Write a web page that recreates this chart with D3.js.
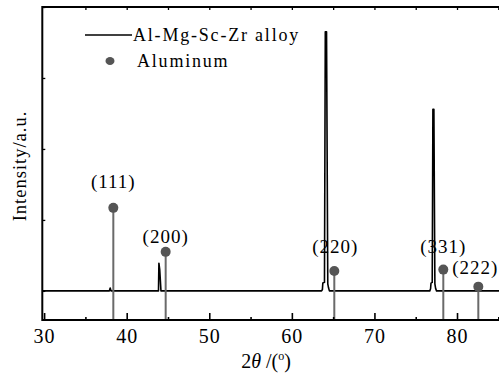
<!DOCTYPE html>
<html>
<head>
<meta charset="utf-8">
<script src="https://cdn.jsdelivr.net/npm/d3@7"></script>
<style>
  html, body { margin: 0; padding: 0; background: #fff; }
  svg { display: block; }
  text { font-family: "Liberation Serif", "DejaVu Serif", serif; fill: #000; }
</style>
</head>
<body>
<svg id="chart" width="499" height="376"></svg>
<script>
// ---- data ----
// Al-Mg-Sc-Zr alloy XRD pattern (2θ, relative intensity)
const alloyTheta = [29.8, 37.9, 38.0, 38.1, 43.85, 43.9, 44.0, 44.15, 63.6, 63.7, 63.75, 63.95, 64.05, 64.2, 64.35, 64.45, 64.55, 76.7, 76.8, 76.85, 77.0, 77.08, 77.2, 77.32, 77.42, 77.52, 85.5];
const alloyIntensity = [0, 0, 0.04, 0, 0, 0.39, 0.3, 0, 0, 0.02, 0.11, 0.12, 3.65, 3.65, 0.1, 0.04, 0, 0, 0.03, 0.11, 0.12, 2.56, 2.56, 0.1, 0.03, 0, 0];
// Aluminum reference peaks
const refLabels = ["(111)", "(200)", "(220)", "(331)", "(222)"];
const refTheta = [38.38, 44.72, 65.14, 78.34, 82.58];
const refIntensity = [1.17, 0.55, 0.28, 0.30, 0.06];
// axis ticks
const xMajorTicks = [30, 40, 50, 60, 70, 80];
const xMinorTicks = [35, 45, 55, 65, 75, 85];
const xTopTicks = [35, 40, 45, 50, 55, 60, 65, 70, 75, 80, 85];
const yTicks = [0, 1, 2, 3, 4];
const legendLabels = ["Al-Mg-Sc-Zr alloy", "Aluminum"];

// ---- layout ----
const mLeft = 42.3, mRight = 498.3, mTop = 7, mBottom = 320;
const labelLift = [20, 9, 18, 17, 13];   // px above marker centre
const labelShift = [0, 0, 1, 0, -3];     // px horizontal
const svg = d3.select("#chart");

const x = d3.scaleLinear().domain([29.78, 85]).range([mLeft, mRight]);
const y = d3.scaleLinear().domain([-0.41, 4]).range([mBottom, mTop]);

// clip
svg.append("defs").append("clipPath").attr("id", "clip")
  .append("rect").attr("x", mLeft).attr("y", mTop).attr("width", 499 - mLeft).attr("height", mBottom - mTop);

const plot = svg.append("g").attr("clip-path", "url(#clip)");

// alloy curve
const pts = alloyTheta.map((t, i) => [t, alloyIntensity[i]]);
plot.append("path")
  .datum(pts)
  .attr("fill", "none")
  .attr("stroke", "#000")
  .attr("stroke-width", 1.6)
  .attr("stroke-linejoin", "round")
  .attr("d", d3.line().x(d => x(d[0])).y(d => y(d[1])));

// reference stems
const refs = refTheta.map((t, i) => ({ t, v: refIntensity[i], label: refLabels[i], i }));
plot.selectAll("line.stem").data(refs).enter().append("line")
  .attr("class", "stem")
  .attr("x1", d => x(d.t)).attr("x2", d => x(d.t))
  .attr("y1", mBottom).attr("y2", d => y(d.v))
  .attr("stroke", "#6a6a6a").attr("stroke-width", 2);
plot.selectAll("circle.mk").data(refs).enter().append("circle")
  .attr("class", "mk")
  .attr("cx", d => x(d.t)).attr("cy", d => y(d.v)).attr("r", 5)
  .attr("fill", "#555");
svg.selectAll("text.pl").data(refs).enter().append("text")
  .attr("class", "pl")
  .attr("x", d => x(d.t) + labelShift[d.i])
  .attr("y", d => y(d.v) - labelLift[d.i])
  .attr("text-anchor", "middle")
  .attr("font-size", 19)
  .attr("letter-spacing", 1)
  .text(d => d.label);

// axes
const axisColor = "#000";
// bottom major
const gB = svg.append("g").attr("transform", `translate(0,${mBottom})`)
  .call(d3.axisBottom(x).tickValues(xMajorTicks).tickSizeInner(-7).tickSizeOuter(0).tickPadding(9).tickFormat(d3.format("d")));
gB.select(".domain").remove();
gB.selectAll("text").attr("font-size", 20).attr("font-family", "Liberation Serif").attr("letter-spacing", 1).attr("fill", "#000");
gB.selectAll("line").attr("stroke", axisColor).attr("stroke-width", 1.6);
// bottom minor
const gBm = svg.append("g").attr("transform", `translate(0,${mBottom})`)
  .call(d3.axisBottom(x).tickValues(xMinorTicks).tickSizeInner(-3).tickSizeOuter(0).tickFormat(""));
gBm.select(".domain").remove();
gBm.selectAll("line").attr("stroke", axisColor).attr("stroke-width", 1.6);
// top ticks
const gT = svg.append("g").attr("transform", `translate(0,${mTop})`)
  .call(d3.axisTop(x).tickValues(xTopTicks).tickSizeInner(-3).tickSizeOuter(0).tickFormat(""));
gT.select(".domain").remove();
gT.selectAll("line").attr("stroke", axisColor).attr("stroke-width", 1.3);
// left ticks
const gL = svg.append("g").attr("transform", `translate(${mLeft},0)`)
  .call(d3.axisLeft(y).tickValues(yTicks).tickSizeInner(-3).tickSizeOuter(0).tickFormat(""));
gL.select(".domain").remove();
gL.selectAll("line").attr("stroke", axisColor).attr("stroke-width", 1.3);

// frame lines
svg.append("line").attr("x1", mLeft).attr("x2", 499).attr("y1", mTop).attr("y2", mTop)
  .attr("stroke", axisColor).attr("stroke-width", 2);
svg.append("line").attr("x1", mLeft).attr("x2", 499).attr("y1", mBottom).attr("y2", mBottom)
  .attr("stroke", axisColor).attr("stroke-width", 2);
svg.append("line").attr("x1", mLeft).attr("x2", mLeft).attr("y1", mTop - 1).attr("y2", mBottom + 1)
  .attr("stroke", axisColor).attr("stroke-width", 2);

// axis titles
const xt = svg.append("text").attr("x", 266).attr("y", 368).attr("text-anchor", "middle").attr("font-size", 20);
xt.append("tspan").text("2");
xt.append("tspan").attr("font-style", "italic").text("θ");
xt.append("tspan").text(" /(");
xt.append("tspan").attr("font-size", 12).attr("dy", -8).text("o");
xt.append("tspan").attr("dy", 8).text(")");

svg.append("text")
  .attr("transform", "translate(26,166) rotate(-90)")
  .attr("text-anchor", "middle")
  .attr("font-size", 18.5)
  .attr("letter-spacing", 1)
  .text("Intensity/a.u.");

// legend
const lg = svg.append("g");
lg.append("line").attr("x1", 85).attr("x2", 132).attr("y1", 35).attr("y2", 35)
  .attr("stroke", "#000").attr("stroke-width", 1.6);
lg.append("text").attr("x", 133).attr("y", 41).attr("font-size", 18).attr("letter-spacing", 1.8).text(legendLabels[0]);
lg.append("ellipse").attr("cx", 110).attr("cy", 61).attr("rx", 4.5).attr("ry", 4).attr("fill", "#555");
lg.append("text").attr("x", 137).attr("y", 67).attr("font-size", 18).attr("letter-spacing", 1.8).text(legendLabels[1]);
</script>
</body>
</html>
